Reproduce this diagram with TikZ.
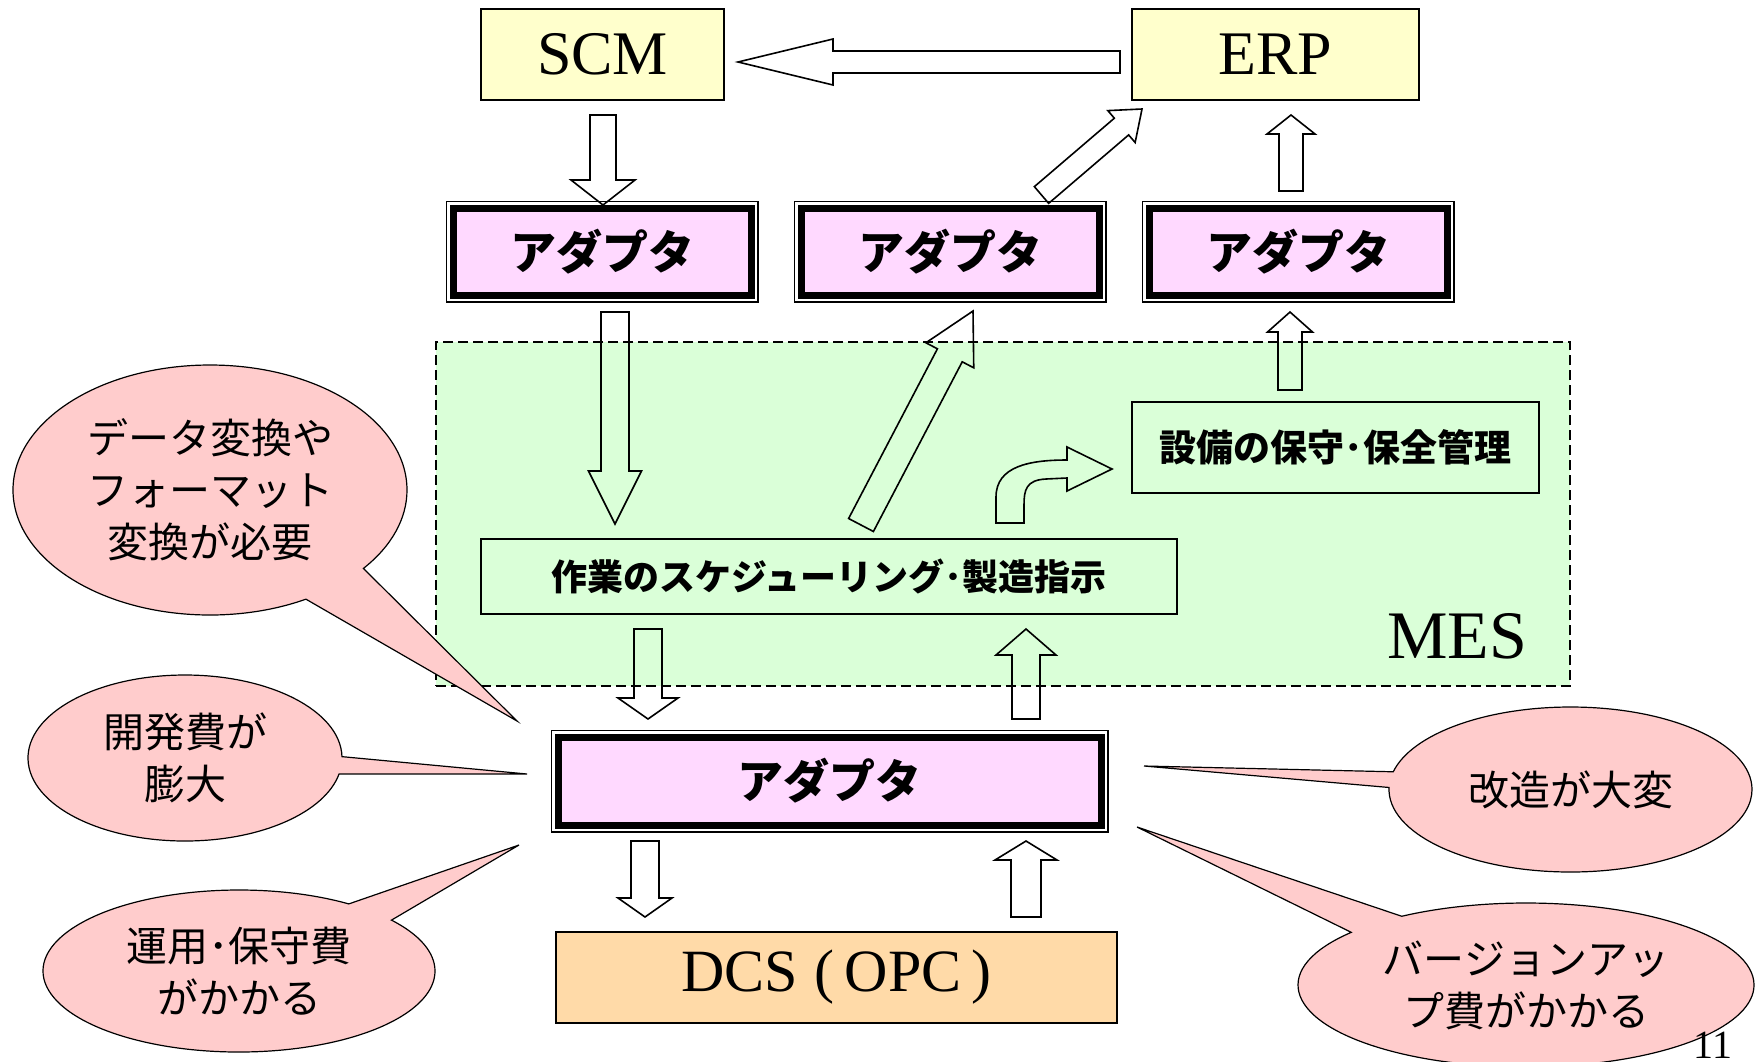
\documentclass[tikz,border=0pt]{standalone}
\usepackage{fontspec}
\setmainfont{Liberation Serif}
\newfontfamily\cjk{Noto Sans CJK JP}
\usetikzlibrary{calc,shapes.callouts}

\definecolor{sysyellow}{RGB}{255,255,204}
\definecolor{adppink}{RGB}{255,217,255}
\definecolor{mesgreen}{RGB}{218,255,216}
\definecolor{dcsorange}{RGB}{255,218,168}
\definecolor{bubblepink}{RGB}{255,204,204}

% hollow block arrow: tail, tip, shaft half width, head half width, head length
\newcommand{\fatarrow}[5]{%
	\path ($(#2)!#5!(#1)$) coordinate (hb);
	\draw[blockarrow] ($(#1)!#3!90:(#2)$) -- ($(hb)!#3!90:(#2)$) -- ($(hb)!#4!90:(#2)$) -- (#2)
		-- ($(hb)!#4!-90:(#2)$) -- ($(hb)!#3!-90:(#2)$) -- ($(#1)!#3!-90:(#2)$) -- cycle;
}

\begin{document}
\begin{tikzpicture}[x=0.5pt, y=-0.5pt,
	sysbox/.style={draw, line width=0.7pt, fill=sysyellow, minimum height=45.5pt, inner sep=0pt, font=\fontsize{31}{31}\selectfont},
	adapter/.style={draw, line width=3.5pt, fill=adppink, minimum width=149pt, minimum height=43.5pt, inner sep=0pt,
		preaction={draw=black, fill=none, line width=0.7pt, double=white, double distance=6.1pt},
		font=\cjk\bfseries\fontsize{23}{23}\selectfont},
	mesarea/.style={draw, line width=0.8pt, dash pattern=on 5pt off 2.5pt, fill=mesgreen, minimum width=567pt, minimum height=172pt, inner sep=0pt},
	mesbox/.style={draw, line width=0.7pt, fill=mesgreen, inner sep=0pt, font=\cjk\bfseries\fontsize{18.5}{18.5}\selectfont},
	blockarrow/.style={draw, line width=0.8pt, line join=miter},
	bubble/.style={ellipse callout, draw, line width=0.6pt, fill=bubblepink, inner sep=0pt, align=center, font=\cjk\fontsize{20.5}{26}\selectfont}]
	
	\fill[white] (0,0) rectangle (1759,1061);
	\useasboundingbox (0,0) rectangle (1759,1061);
	
	% MES area
	\node[mesarea] (mes) at (1003,514) {};
	\node[inner sep=0pt, font=\fontsize{34}{34}\selectfont] (meslabel) at (1457,636) {MES};
	
	% Row 1: SCM, ERP
	\node[sysbox, minimum width=121.5pt] (scm) at (602.5,54.5) {SCM};
	\node[sysbox, minimum width=143.5pt] (erp) at (1275.5,54.5) {ERP};
	
	% Row 2: adapters
	\node[adapter] (ad1) at (602,251.5) {アダプタ};
	\node[adapter] (ad2) at (950,251.5) {アダプタ};
	\node[adapter] (ad3) at (1298,251.5) {アダプタ};
	
	% MES functions
	\node[mesbox, minimum width=203.5pt, minimum height=45.5pt] (fac) at (1335.5,447.5) {設備の保守･保全管理};
	\node[mesbox, minimum width=348pt, minimum height=37.5pt, font=\cjk\bfseries\fontsize{18}{18}\selectfont] (sched) at (829,576.5) {作業のスケジューリング･製造指示};
	
	% Row 3: adapter, DCS
	\node[adapter, minimum width=271.5pt, minimum height=44pt] (ad4) at (829.5,781) {アダプタ};
	\node[sysbox, fill=dcsorange, minimum width=280.5pt, font=\fontsize{30}{30}\selectfont] (dcs) at (836.5,977.5) {DCS\;(\,OPC\,)};
	
	% arrow ends
	\coordinate (erpout) at (1120,62);    \coordinate (scmin) at (738,62);
	\coordinate (scmout) at (603,115);    \coordinate (ad1in) at (603,205);
	\coordinate (ad2out) at (1041.5,195); \coordinate (erpin1) at (1142,109);
	\coordinate (ad3out) at (1291,191);   \coordinate (erpin2) at (1291,115);
	\coordinate (ad1out) at (615,312);    \coordinate (schedin) at (615,524);
	\coordinate (schedout) at (861,525);  \coordinate (ad2in) at (973,311);
	\coordinate (facout) at (1290,390);   \coordinate (ad3in) at (1290,312);
	\coordinate (schedout2) at (648,629); \coordinate (ad4in) at (648,719);
	\coordinate (ad4out) at (1026,719);   \coordinate (schedin2) at (1026,629);
	\coordinate (ad4out2) at (645,841);   \coordinate (dcsin) at (645,917);
	\coordinate (dcsout) at (1026,917);   \coordinate (ad4in2) at (1026,841);
	
	% block arrows
	\fatarrow{erpout}{scmin}{5.5pt}{11.5pt}{47.5pt}
	\fatarrow{scmout}{ad1in}{6.5pt}{16pt}{12.5pt}
	\fatarrow{ad2out}{erpin1}{5.5pt}{10.5pt}{13.5pt}
	\fatarrow{ad3out}{erpin2}{6pt}{12pt}{9.5pt}
	\fatarrow{ad1out}{schedin}{7pt}{13.25pt}{26.5pt}
	\fatarrow{schedout}{ad2in}{7pt}{13.5pt}{25pt}
	\fatarrow{facout}{ad3in}{6pt}{11.25pt}{10pt}
	\fatarrow{schedout2}{ad4in}{7pt}{15pt}{10.5pt}
	\fatarrow{ad4out}{schedin2}{7pt}{15pt}{13pt}
	\fatarrow{ad4out2}{dcsin}{7pt}{13.5pt}{9.5pt}
	\fatarrow{dcsout}{ad4in2}{7.5pt}{15.5pt}{9.5pt}
	
	% bent arrow to maintenance
	\draw[blockarrow] (996,523) -- (996,497) .. controls (996,466) and (1030,460) .. (1067,460)
		-- (1067,447) -- (1112,469) -- (1067,491) -- (1067,478) -- (1046,479)
		.. controls (1026,480) and (1024,490) .. (1024,505) -- (1024,523) -- cycle;
	
	% callouts
	\coordinate (tip1) at (517,721);
	\coordinate (tip2) at (527,774);
	\coordinate (tip3) at (519,845);
	\coordinate (tip4) at (1144,766);
	\coordinate (tip5) at (1137,827);
	\node[bubble, minimum width=197pt, minimum height=125pt, callout absolute pointer={(tip1)}, callout pointer arc=22] (b1) at (210,490) {データ変換や\\フォーマット\\変換が必要};
	\node[bubble, minimum width=157pt, minimum height=83pt, callout absolute pointer={(tip2)}, callout pointer arc=12] (b2) at (185,758) {開発費が\\膨大};
	\node[bubble, minimum width=196pt, minimum height=81pt, callout absolute pointer={(tip3)}, callout pointer arc=17] (b3) at (239,971) {運用･保守費\\がかかる};
	\node[bubble, minimum width=181.5pt, minimum height=82.5pt, callout absolute pointer={(tip4)}, callout pointer arc=11] (b4) at (1570.5,789.5) {改造が大変};
	\node[bubble, minimum width=228pt, minimum height=82pt, callout absolute pointer={(tip5)}, callout pointer arc=17] (b5) at (1526,985) {バージョンアッ\\プ費がかかる};
	
	% page number
	\node[inner sep=0pt, anchor=base, font=\fontsize{20}{20}\selectfont] (pnum) at (1713,1058) {11};
	
\end{tikzpicture}
\end{document}
